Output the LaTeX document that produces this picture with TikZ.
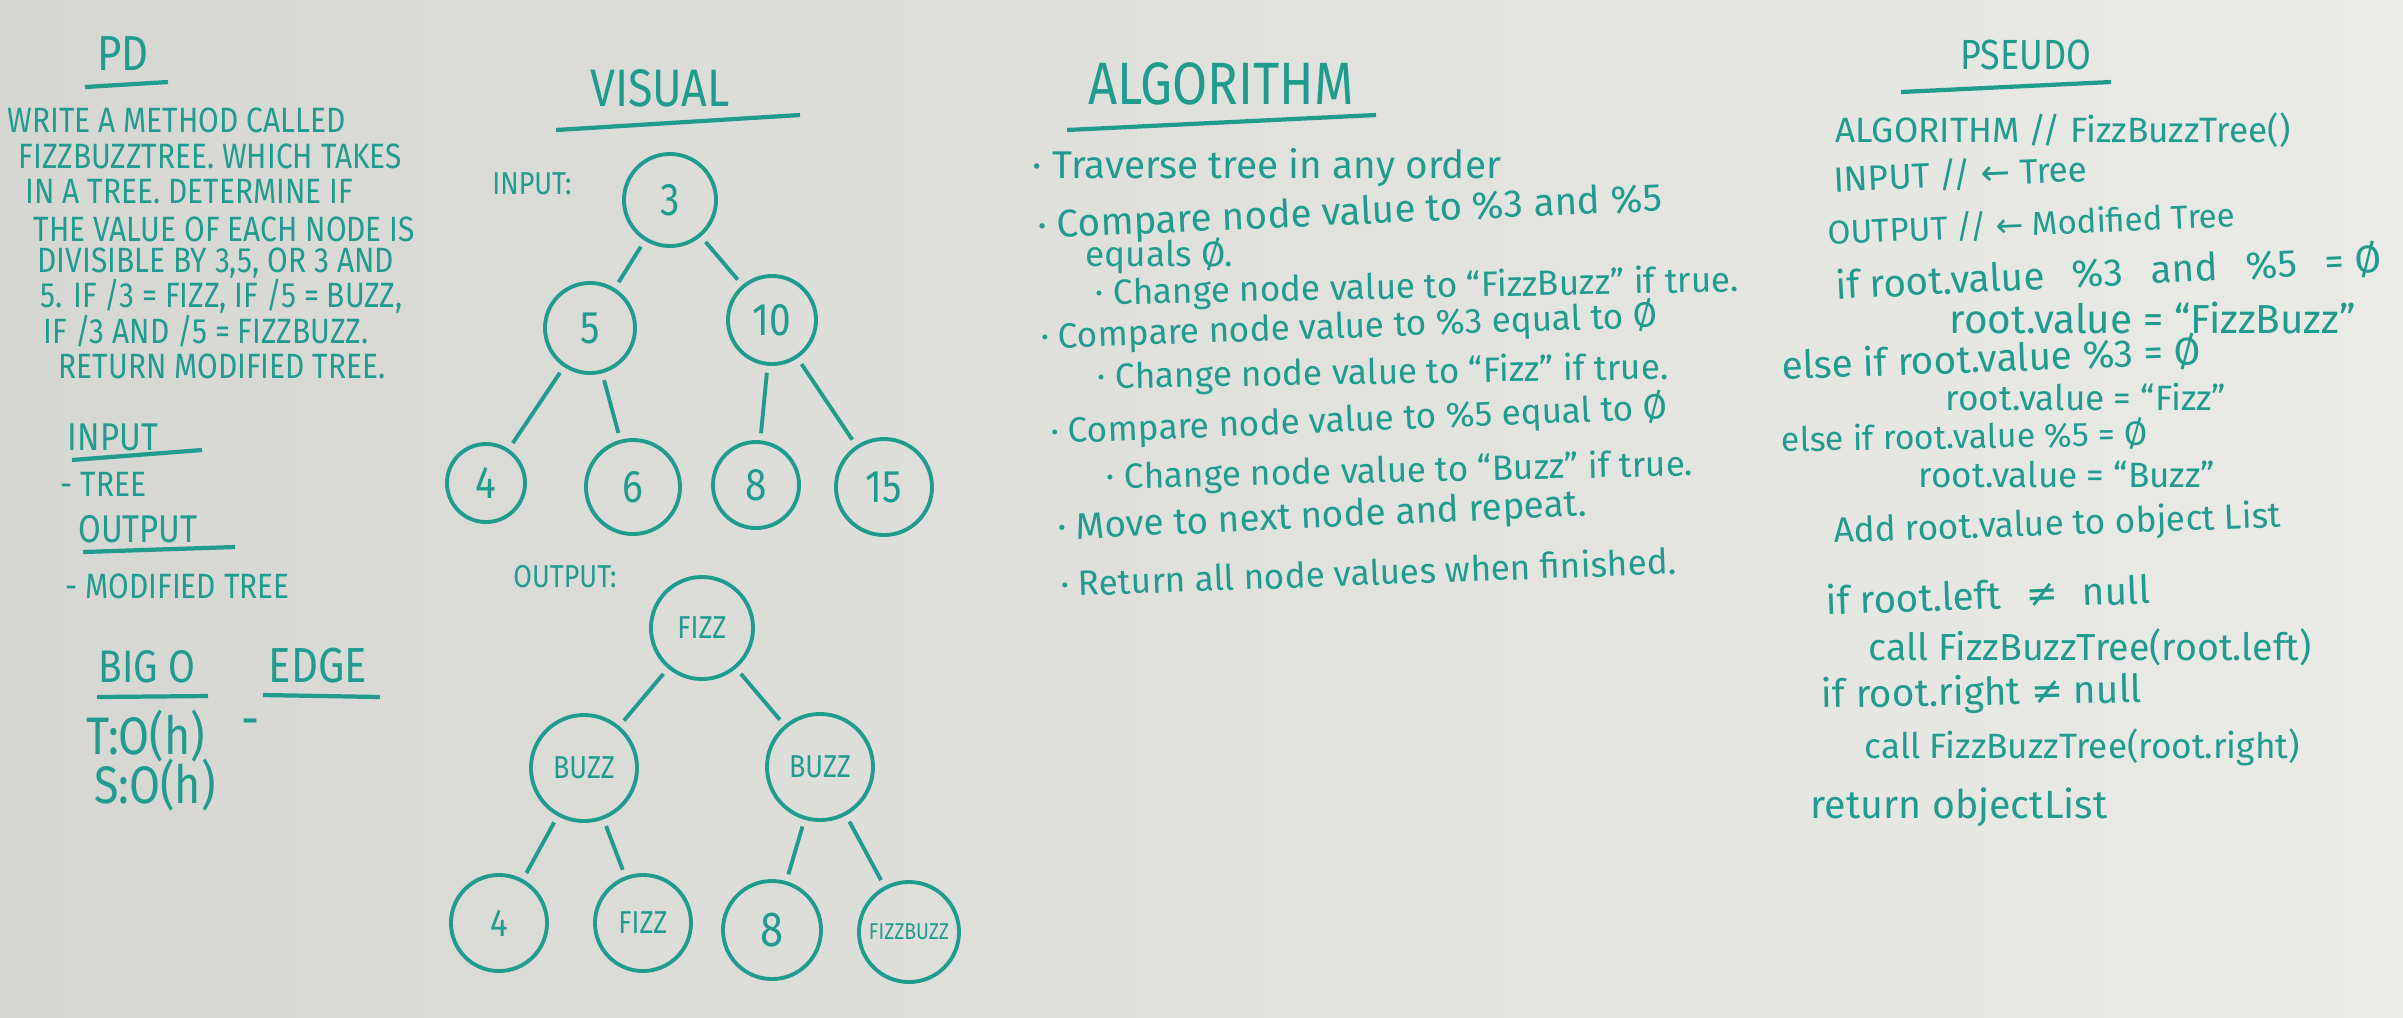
\documentclass[tikz,border=0pt]{standalone}
\usepackage{fontspec}
\setmainfont{Fira Sans}[FakeStretch=0.85]
\newfontfamily\handfont{Fira Sans}[Ligatures=TeX]
\newfontfamily\symfont{DejaVu Sans}
\definecolor{ink}{RGB}{32,156,142}
\definecolor{boardleft}{RGB}{214,214,211}
\definecolor{boardright}{RGB}{234,234,231}

\begin{document}
\begin{tikzpicture}[x=0.01cm, y=-0.01cm,
  vertex/.style={draw=ink, circle, line width=1.1pt, inner sep=0pt, minimum size=#1, text=ink},
  link/.style={draw=ink, line width=1.1pt, shorten <=2pt, shorten >=2pt},
  rule/.style={draw=ink, line width=1.2pt},
  head/.style={text=ink, inner sep=0pt, font=\fontsize{15}{16}\selectfont},
  note/.style={text=ink, inner sep=0pt, anchor=west, font=\fontsize{10}{11}\selectfont},
  algo/.style={note, font=\handfont\fontsize{10}{12}\selectfont},
  code/.style={note, font=\handfont\fontsize{10}{12}\selectfont}
]
  \useasboundingbox (0,0) rectangle (2403,1017);
  \shade[left color=boardleft, right color=boardright] (0,0) rectangle (2403,1017);

  % problem domain
  \node[head, font=\fontsize{14}{15}\selectfont] (pd) at (123,54) {PD};
  \draw[rule] (85,87) -- (168,82);
  \node[note] (pd1) at (7,120) {WRITE A METHOD CALLED};
  \node[note] (pd2) at (18,156) {FIZZBUZZTREE. WHICH TAKES};
  \node[note] (pd3) at (25,192) {IN A TREE. DETERMINE IF};
  \node[note] (pd4) at (33,229) {THE VALUE OF EACH NODE IS};
  \node[note] (pd5) at (37,263) {DIVISIBLE BY 3,5, OR 3 AND};
  \node[note] (pd6) at (40,296) {5. IF /3 = FIZZ, IF /5 = BUZZ,};
  \node[note] (pd7) at (43,331) {IF /3 AND /5 = FIZZBUZZ.};
  \node[note] (pd8) at (58,366) {RETURN MODIFIED TREE.};

  \node[head, font=\fontsize{11}{12}\selectfont] (inhead) at (113,437) {INPUT};
  \draw[rule] (72,460) -- (202,450);
  \node[note] (intree) at (60,484) {- TREE};
  \node[head, font=\fontsize{11}{12}\selectfont] (outhead) at (138,529) {OUTPUT};
  \draw[rule] (83,552) -- (235,547);
  \node[note] (outtree) at (65,586) {- MODIFIED TREE};

  \node[head, font=\fontsize{13}{14}\selectfont] (bigo) at (147,667) {BIG O};
  \draw[rule] (97,697) -- (208,696);
  \node[head, font=\fontsize{14}{15}\selectfont] (edgecase) at (318,666) {EDGE};
  \draw[rule] (263,695) -- (380,697);
  \node[head, font=\fontsize{15}{16}\selectfont] (time) at (146,736) {T:O(h)};
  \node[head] (nocase) at (251,728) {-};
  \node[head, font=\fontsize{15}{16}\selectfont] (space) at (155,785) {S:O(h)};

  % visual
  \node[head] (visual) at (660,88) {VISUAL};
  \draw[rule] (556,130) -- (800,115);
  \node[head, font=\fontsize{9}{10}\selectfont] (inlabel) at (532,184) {INPUT:};
  \begin{scope}[every node/.append style={font=\fontsize{13}{14}\selectfont}]
    \node[vertex=0.92cm] (in3) at (670,200) {3};
    \node[vertex=0.90cm] (in5) at (590,328) {5};
    \node[vertex=0.88cm] (in10) at (772,320) {10};
    \node[vertex=0.78cm] (in4) at (486,483) {4};
    \node[vertex=0.94cm] (in6) at (633,487) {6};
    \node[vertex=0.86cm] (in8) at (756,485) {8};
    \node[vertex=0.96cm] (in15) at (884,487) {15};
  \end{scope}
  \draw[link] (in3) -- (in5);
  \draw[link] (in3) -- (in10);
  \draw[link] (in5) -- (in4);
  \draw[link] (in5) -- (in6);
  \draw[link] (in10) -- (in8);
  \draw[link] (in10) -- (in15);

  \node[head, font=\fontsize{9}{10}\selectfont] (outlabel) at (565,577) {OUTPUT:};
  \begin{scope}[every node/.append style={font=\fontsize{9}{10}\selectfont}]
    \node[vertex=1.02cm] (outroot) at (702,628) {FIZZ};
    \node[vertex=1.06cm] (outleft) at (584,768) {BUZZ};
    \node[vertex=1.06cm] (outright) at (820,767) {BUZZ};
    \node[vertex=0.96cm, font=\fontsize{11}{12}\selectfont] (out4) at (499,923) {4};
    \node[vertex=0.96cm] (outfizz) at (643,923) {FIZZ};
    \node[vertex=0.98cm, font=\fontsize{14}{15}\selectfont] (out8) at (772,930) {8};
    \node[vertex=1.00cm, font=\fontsize{6.5}{7}\selectfont] (outfb) at (909,932) {FIZZBUZZ};
  \end{scope}
  \draw[link] (outroot) -- (outleft);
  \draw[link] (outroot) -- (outright);
  \draw[link] (outleft) -- (out4);
  \draw[link] (outleft) -- (outfizz);
  \draw[link] (outright) -- (out8);
  \draw[link] (outright) -- (outfb);

  % algorithm
  \node[head, font=\fontsize{17}{18}\selectfont] (algo) at (1221,84) {ALGORITHM};
  \draw[rule] (1067,130) -- (1376,115);
  \node[algo, font=\handfont\fontsize{11}{12}\selectfont] (a1) at (1032,168) {· Traverse tree in any order};
  \node[algo, rotate=2.5, font=\handfont\fontsize{11}{12}\selectfont] (a2) at (1037,228) {· Compare node value to \%3 and \%5};
  \node[algo] (a3) at (1085,256) {equals Ø.};
  \node[algo, rotate=1.2] (a4) at (1095,295) {· Change node value to ``FizzBuzz'' if true.};
  \node[algo, rotate=2] (a5) at (1040,338) {· Compare node value to \%3 equal to Ø};
  \node[algo, rotate=1] (a6) at (1097,379) {· Change node value to ``Fizz'' if true.};
  \node[algo, rotate=2.3] (a7) at (1050,433) {· Compare node value to \%5 equal to Ø};
  \node[algo, rotate=1.3] (a8) at (1106,479) {· Change node value to ``Buzz'' if true.};
  \node[algo, rotate=2.6, font=\handfont\fontsize{10.5}{12}\selectfont] (a9) at (1057,530) {· Move to next node and repeat.};
  \node[algo, rotate=2.1] (a10) at (1060,583) {· Return all node values when finished.};

  % pseudocode
  \node[head, font=\fontsize{12}{13}\selectfont] (pseudo) at (2026,55) {PSEUDO};
  \draw[rule] (1901,92) -- (2111,82);
  \node[code] (p1) at (1835,130) {ALGORITHM // FizzBuzzTree()};
  \node[code, rotate=2.5] (p2) at (1833,180) {INPUT // {\symfont ←} Tree};
  \node[code, rotate=2.5, font=\handfont\fontsize{9.4}{10}\selectfont] (p3) at (1827,233) {OUTPUT // {\symfont ←} Modified Tree};
  \node[code, rotate=2.8, font=\handfont\fontsize{11}{12}\selectfont] (p4) at (1835,286) {if root.value\hspace{5pt} \%3\hspace{5pt} and\hspace{5pt} \%5\hspace{5pt} = Ø};
  \node[code, font=\handfont\fontsize{11.5}{12}\selectfont] (p5) at (1949,318) {root.value = ``FizzBuzz''};
  \node[code, rotate=2, font=\handfont\fontsize{11}{12}\selectfont] (p6) at (1781,366) {else if root.value \%3 = Ø};
  \node[code] (p7) at (1945,397) {root.value = ``Fizz''};
  \node[code, rotate=1, font=\handfont\fontsize{9.6}{11}\selectfont] (p8) at (1781,440) {else if root.value \%5 = Ø};
  \node[code] (p9) at (1918,474) {root.value = ``Buzz''};
  \node[code, rotate=2] (p10) at (1833,533) {Add root.value to object List};
  \node[code, rotate=2, font=\handfont\fontsize{11}{12}\selectfont] (p11) at (1825,600) {if root.left\hspace{4pt} {\symfont ≠}\hspace{4pt} null};
  \node[code, font=\handfont\fontsize{10.7}{12}\selectfont] (p12) at (1868,647) {call FizzBuzzTree(root.left)};
  \node[code, rotate=1, font=\handfont\fontsize{11}{12}\selectfont] (p13) at (1821,697) {if root.right {\symfont ≠} null};
  \node[code] (p14) at (1864,747) {call FizzBuzzTree(root.right)};
  \node[code, font=\handfont\fontsize{11.2}{12}\selectfont] (p15) at (1810,807) {return objectList};
\end{tikzpicture}
\end{document}
